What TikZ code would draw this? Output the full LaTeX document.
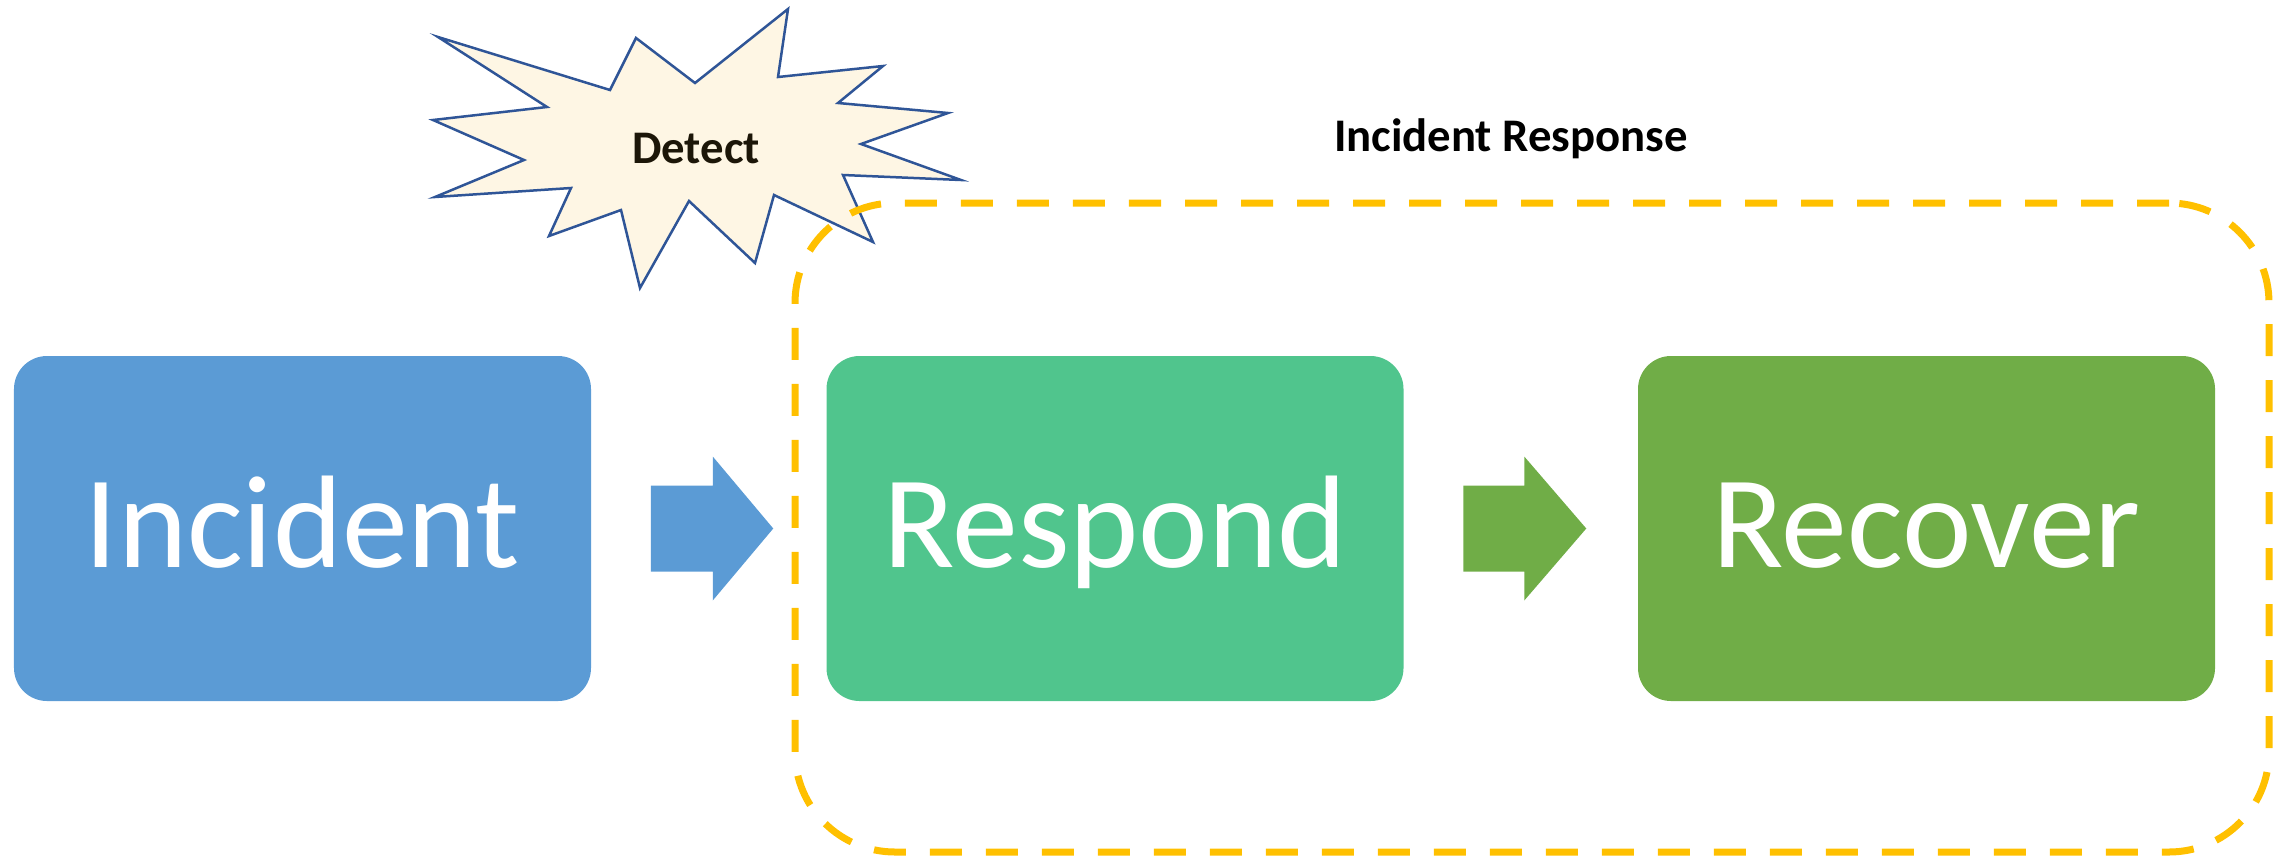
\documentclass[tikz,border=0pt]{standalone}
\usepackage{fontspec}
\setmainfont{Carlito}
\usetikzlibrary{calc}

\definecolor{incblue}{HTML}{5B9BD5}
\definecolor{respgreen}{HTML}{50C58D}
\definecolor{recgreen}{HTML}{70AD47}
\definecolor{irgold}{HTML}{FFC000}
\definecolor{burstfill}{HTML}{FEF6E4}
\definecolor{burstline}{HTML}{2F5597}
\definecolor{detectink}{HTML}{1C1608}

\begin{document}
\begin{tikzpicture}[
  phase/.style={rounded corners=0.33cm, minimum width=5.77cm,
    minimum height=3.45cm, inner sep=0pt, text=white,
    text height=0.85cm, text depth=0.08cm,
    font=\fontsize{37.5}{40}\selectfont},
  boldlabel/.style={inner sep=0pt, anchor=base,
    font=\fontsize{13.3}{15}\selectfont\bfseries},
  irframe/.style={draw=irgold, line width=0.07cm, rounded corners=1cm,
    dash pattern=on 0.32cm off 0.24cm, inner sep=0pt,
    minimum width=14.74cm, minimum height=6.49cm},
  burst/.style={fill=burstfill, draw=burstline, line width=0.025cm,
    line join=miter}
]
\useasboundingbox (0,0) rectangle (22.9,-8.57);

% the three phases
\node[phase, fill=incblue]   (inc)  at (3.025,-5.285) {Incident};
\node[phase, fill=respgreen] (resp) at (11.15,-5.285) {Respond};
\node[phase, fill=recgreen]  (rec)  at (19.265,-5.285) {Recover};

% block arrows between the phases
\coordinate (m1) at ($(inc.east)!0.5!(resp.west)$);
\coordinate (m2) at ($(resp.east)!0.5!(rec.west)$);
\fill[incblue] ($(m1)+(-0.58,0.43)$) -- ++(0.62,0) -- ++(0,0.29)
  -- ++(0.605,-0.72) -- ++(-0.605,-0.72) -- ++(0,0.29) -- ++(-0.62,0) -- cycle;
\fill[recgreen] ($(m2)+(-0.575,0.43)$) -- ++(0.61,0) -- ++(0,0.29)
  -- ++(0.62,-0.72) -- ++(-0.62,-0.72) -- ++(0,0.29) -- ++(-0.61,0) -- cycle;

% starburst for the detection step
\draw[burst] (4.38,-0.37) -- (6.10,-0.90) -- (6.36,-0.38) -- (6.95,-0.83)
  -- (7.88,-0.09) -- (7.78,-0.77) -- (8.83,-0.66) -- (8.38,-1.03)
  -- (9.48,-1.13) -- (8.61,-1.44) -- (9.61,-1.80) -- (8.43,-1.75)
  -- (8.73,-2.42) -- (7.74,-1.95) -- (7.55,-2.63) -- (6.89,-2.01)
  -- (6.40,-2.88) -- (6.21,-2.10) -- (5.49,-2.36) -- (5.71,-1.88)
  -- (4.35,-1.97) -- (5.24,-1.60) -- (4.33,-1.20) -- (5.47,-1.07) -- cycle;
\node[boldlabel, text=detectink] (det) at (6.96,-1.63) {Detect};

% incident response scope
\node[irframe] (ir) at (15.32,-5.275) {};
\node[boldlabel, text=black] (irt) at (15.11,-1.51) {Incident Response};
\end{tikzpicture}
\end{document}
